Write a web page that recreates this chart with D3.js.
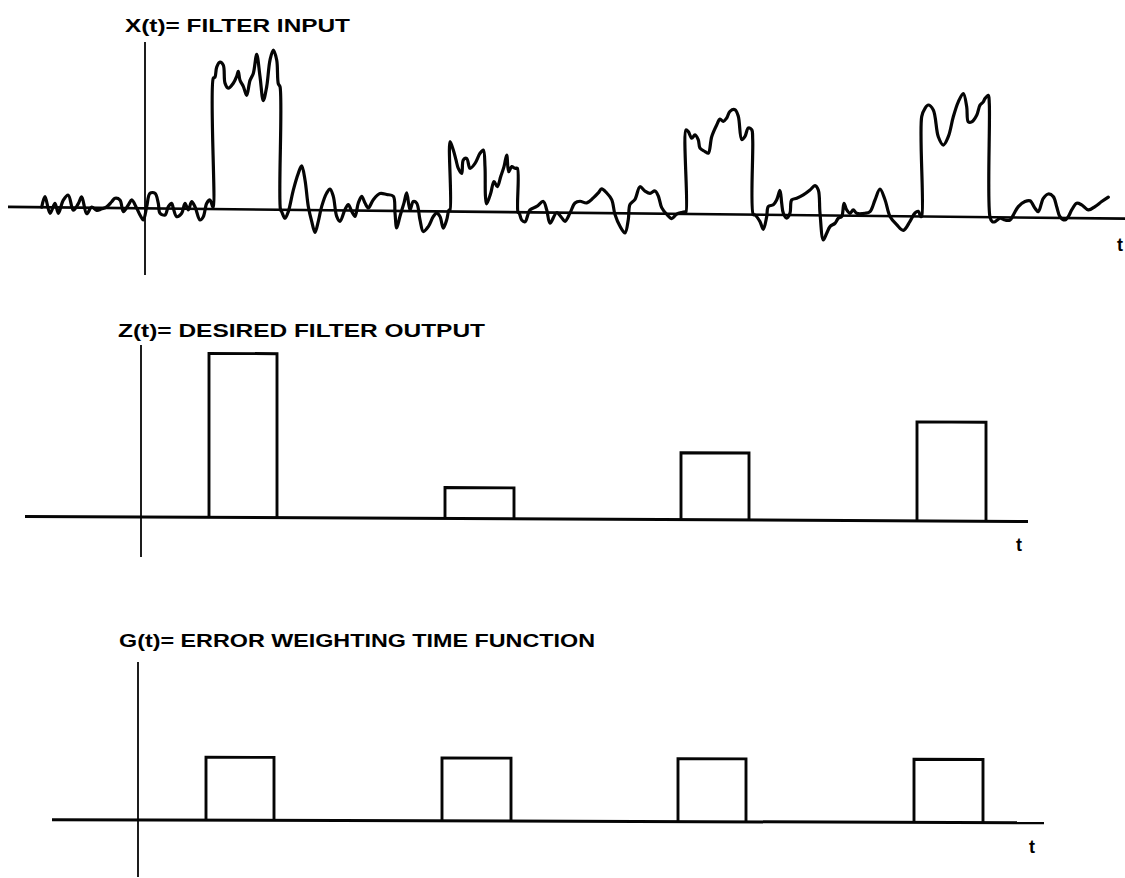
<!DOCTYPE html>
<html>
<head>
<meta charset="utf-8">
<script src="https://cdn.jsdelivr.net/npm/d3@7"></script>
<style>
  body { margin: 0; background: #fff; }
  text { font-family: "Liberation Sans", Arial, sans-serif; font-weight: bold; fill: #000; }
</style>
</head>
<body>
<svg id="chart" width="1125" height="878"></svg>
<script>
// time in units (0 = vertical axis), amplitudes in arbitrary units
const titles = ["X(t)= FILTER INPUT", "Z(t)= DESIRED FILTER OUTPUT", "G(t)= ERROR WEIGHTING TIME FUNCTION"];
const axisLabel = "t";

const pulseStart = [6.8, 30.4, 54.0, 77.6];
const pulseEnd = [13.6, 37.3, 60.8, 84.5];
const zLevel = [1.64, 0.31, 0.67, 0.99];
const gLevel = [1, 1, 1, 1];

// X(t): traced signal, [t, value]
const noise0 = [[-10.33,0],[-10,1.06],[-9.5,-0.6],[-9,0.4],[-8.67,-0.6],[-8.17,0.73],[-7.67,1.23],[-7.17,-0.27],
  [-6.67,0.4],[-6.33,1.07],[-5.83,-0.6],[-5.33,0.07],[-4.83,-0.25],[-4.33,-0.1],[-3.83,0.1],[-3.33,0.62],[-3,0.97],
  [-2.5,0.8],[-2.17,-0.36],[-1.67,0.31],[-1.33,0.82],[-0.83,0],[-0.5,-0.67],[-0.17,-1.17],[0.17,0.16],[0.5,1.5],
  [1,1.51],[1.33,0.51],[1.5,-0.48],[2,-0.65],[2.33,0.19],[2.67,0.53],[2.83,0.03],[3.17,-0.8],[3.67,-0.46],[4,0.54],
  [4.33,-0.12],[4.67,0.71],[5,0.21],[5.5,-1.11],[5.83,-0.78],[6.17,0.56],[6.5,0.9],[6.77,0.23]];
const pulse1 = [[6.83,0.2],[6.83,13.07],[7,13.2],[7.17,14.2],[7.5,14.7],[7.83,14.4],[8,12.6],[8.33,12.1],[8.83,12.6],
  [9.17,13.3],[9.33,13.8],[9.5,12.9],[9.83,12.3],[10.17,11.4],[10.5,12.9],[10.83,13.6],[11.17,15.5],[11.5,13.3],
  [11.83,10.9],[12.17,12.3],[12.5,14.96],[12.83,15.96],[13.17,14.97],[13.33,12.6],[13.5,12.3],[13.55,0]];
const noise1 = [[13.67,-0.2],[14,-0.85],[14.33,-0.18],[14.83,1.98],[15.33,3.66],[15.67,4.4],[16,3],[16.33,0.36],
  [16.67,-1.13],[17,-2.22],[17.33,-1.12],[17.67,0.38],[18.17,1.72],[18.5,2.12],[18.83,1.39],[19.17,-0.61],[19.5,-1.1],
  [20,0.08],[20.33,0.58],[20.67,-0.09],[21,-0.58],[21.33,0.75],[21.67,1.42],[22,0.76],[22.33,0.27],[22.83,1.1],
  [23.5,1.72],[24.17,1.63],[24.83,1.47],[25,-0.2],[25.17,-1.7],[25.5,-0.53],[25.9,0.81],[26.17,1.81],[26.5,0.12],
  [26.83,0.96],[27.17,0.8],[27.5,-0.87],[27.83,-2.03],[28.33,-1.53],[28.83,-0.52],[29.17,-0.18],[29.5,-0.51],
  [29.83,-1.67],[30.17,-0.84],[30.4,0.15]];
const pulse2 = [[30.5,0.15],[30.5,6.98],[30.83,6.15],[31.1,5.16],[31.33,4.32],[31.67,3.83],[31.83,5.17],[32.17,5.33],
  [32.5,4.34],[33,4.84],[33.5,5.85],[33.83,6.18],[34,4.5],[34.05,1.5],[34.17,0.8],[34.57,1.87],[34.9,3.03],
  [35.23,2.53],[35.57,3.54],[35.9,4.54],[36.17,5.71],[36.37,4.04],[36.67,4.55],[37,4.39],[37.23,4.4],[37.3,0]];
const noise2 = [[37.43,-0.11],[37.67,-0.78],[38,-0.95],[38.5,0.25],[39.17,0.6],[39.83,1.1],[40.17,0.27],[40.5,-1.06],
  [41.17,-0.01],[41.67,-0.51],[42,-0.87],[42.5,-0.03],[43,0.98],[43.5,1.16],[44.17,1],[44.83,1.51],[45.33,2.02],
  [45.67,2.42],[46.17,2.02],[46.67,1.36],[47,-0.13],[47.5,-1.3],[48,-1.96],[48.33,-0.62],[48.5,0.9],[49,1.41],
  [49.5,2.68],[50,2.25],[50.5,2.03],[51,2.27],[51.33,1.77],[51.67,0.61],[52.17,-0.05],[52.67,-0.47],[53.17,-0.02],
  [53.67,0.15],[54,0.2]];
const pulse3 = [[54.1,0.2],[54.1,8.4],[54.33,8.24],[54.67,7.58],[55,7.92],[55.33,7.42],[55.5,6.59],[56,6.26],
  [56.33,6.1],[56.67,7.76],[57.17,8.94],[57.5,9.52],[57.83,9.3],[58.17,9.64],[58.5,10.31],[59,10.48],[59.33,9.82],
  [59.67,7.5],[60,7.83],[60.33,8.67],[60.67,8.5],[60.77,7.5],[60.83,0]];
const noise3 = [[61,-0.03],[61.5,-0.69],[61.83,-1.45],[62.17,-0.17],[62.33,0.84],[62.83,1.01],[63.17,1.51],[63.5,2.45],
  [63.67,1.18],[63.83,0.18],[64.17,-0.31],[64.5,0.19],[64.67,1.52],[65.17,1.69],[65.83,2.03],[66.5,2.53],[67,2.97],
  [67.33,2.54],[67.5,0.22],[67.83,-2.45],[68.17,-1.78],[68.5,-1.11],[69,-0.77],[69.33,-0.26],[69.67,-0.09],
  [69.9,1.24],[70.17,0.57],[70.5,0.24],[70.83,0.58],[71.17,0.25],[72,0.26],[72.5,0.43],[73,1.6],[73.5,2.68],
  [74,1.63],[74.5,-0.03],[75.17,-0.85],[75.83,-1.41],[76.5,-0.5],[77,0.34],[77.33,0.51],[77.57,0.01]];
const pulse4 = [[77.67,0.01],[77.67,9.98],[78,10.82],[78.33,11.15],[78.83,10.66],[79.33,7.99],[79.83,7.16],[80.33,8],
  [80.83,10],[81.33,11.5],[81.83,12.34],[82.17,11.01],[82.33,9.51],[82.67,9.51],[83.17,10.18],[83.5,11.19],
  [83.83,11.52],[84,11.86],[84.33,12.19],[84.43,11.36],[84.5,0]];
const noise4 = [[84.73,-0.45],[85,-0.45],[85.5,-0.1],[86,-0.27],[86.5,-0.26],[86.83,0.24],[87.33,1.08],[88,1.6],
  [88.5,1.68],[89,0.94],[89.33,0.6],[89.83,1.94],[90.33,2.38],[90.83,2.12],[91.17,1.12],[91.5,0.12],[92,-0.2],
  [92.33,0.14],[92.67,0.81],[93.17,1.48],[93.67,1.32],[94.33,0.83],[95,1.17],[95.67,1.68],[96.33,2.13]];

const inputSignal = [].concat(noise0, pulse1, noise1, pulse2, noise2, pulse3, noise3, pulse4, noise4);

// layout of the three strips (page pixels)
const panels = [
  { ox: 145, oy: 208.3, tilt: 0.0105, x0: 8, x1: 1125, top: 42, bottom: 275,
    title: { x: 125, y: 32, w: 225 }, tLab: { x: 1117, y: 251 }, y: d3.scaleLinear().domain([0, 16]).range([0, -160]) },
  { ox: 141, oy: 517, tilt: 0.005, x0: 25, x1: 1028, top: 345, bottom: 557,
    title: { x: 118, y: 337, w: 367 }, tLab: { x: 1016, y: 551 }, y: d3.scaleLinear().domain([0, 2]).range([0, -200]) },
  { ox: 138, oy: 820, tilt: 0.003, x0: 52, x1: 1044, top: 662, bottom: 877,
    title: { x: 119, y: 647, w: 476 }, tLab: { x: 1029, y: 853 }, y: d3.scaleLinear().domain([0, 1]).range([0, -63]) }
];

const x = d3.scaleLinear().domain([0, 10]).range([0, 100]);
const svg = d3.select("#chart");
const ink = "#050505";

panels.forEach((p, i) => {
  svg.append("text")
    .attr("x", p.title.x).attr("y", p.title.y)
    .attr("font-size", 19)
    .attr("textLength", p.title.w)
    .attr("lengthAdjust", "spacingAndGlyphs")
    .text(titles[i]);

  svg.append("text")
    .attr("x", p.tLab.x).attr("y", p.tLab.y)
    .attr("font-size", 18)
    .text(axisLabel);

  const g = svg.append("g")
    .attr("transform", `translate(${p.ox},${p.oy}) skewY(${Math.atan(p.tilt) * 180 / Math.PI})`);

  // t axis
  g.append("line")
    .attr("x1", p.x0 - p.ox).attr("x2", p.x1 - p.ox)
    .attr("y1", p.y(0)).attr("y2", p.y(0))
    .attr("stroke", ink).attr("stroke-width", i === 0 ? 2.6 : 3);

  // vertical axis
  svg.append("line")
    .attr("x1", p.ox).attr("x2", p.ox)
    .attr("y1", p.top).attr("y2", p.bottom)
    .attr("stroke", ink).attr("stroke-width", 1.8);

  p.g = g;
});

// X(t)
const line = d3.line()
  .x(d => x(d[0]))
  .y(d => panels[0].y(d[1]))
  .curve(d3.curveCatmullRom.alpha(0.5));

panels[0].g.append("path")
  .datum(inputSignal)
  .attr("d", line)
  .attr("fill", "none")
  .attr("stroke", ink)
  .attr("stroke-width", 3.2)
  .attr("stroke-linejoin", "round")
  .attr("stroke-linecap", "round");

// Z(t) and G(t) rectangular pulses
function drawPulses(p, levels) {
  p.g.selectAll("path.pulse")
    .data(levels)
    .enter()
    .append("path")
    .attr("class", "pulse")
    .attr("d", (d, k) => {
      const a = x(pulseStart[k]), b = x(pulseEnd[k]);
      return `M${a},${p.y(0)}V${p.y(d)}H${b}V${p.y(0)}`;
    })
    .attr("fill", "none")
    .attr("stroke", ink)
    .attr("stroke-width", 2.9)
    .attr("stroke-linejoin", "miter");
}
drawPulses(panels[1], zLevel);
drawPulses(panels[2], gLevel);
</script>
</body>
</html>
